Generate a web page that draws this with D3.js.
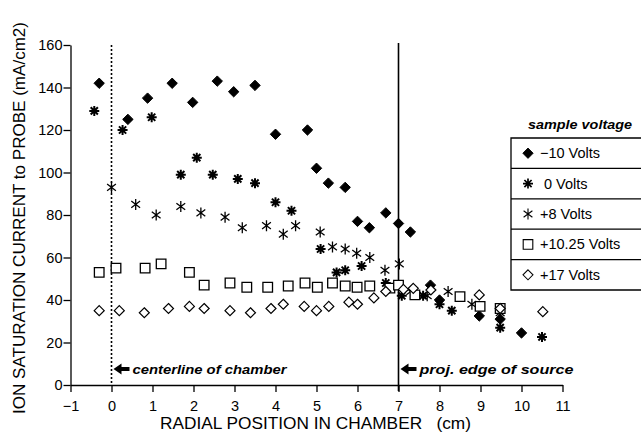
<!DOCTYPE html>
<html><head><meta charset="utf-8">
<script src="https://cdn.jsdelivr.net/npm/d3@7"></script>
<style>
html,body{margin:0;padding:0;background:#fff;}
svg{display:block;font-family:"Liberation Sans",Arial,Helvetica,sans-serif;}
</style></head>
<body>
<svg id="chart" width="641" height="436"></svg>
<script>
// ---------------- data ----------------
const xTicks = [-1,0,1,2,3,4,5,6,7,8,9,10,11];
const yTicks = [0,20,40,60,80,100,120,140,160];
const seriesNames = ["\u221210 Volts"," 0 Volts","+8 Volts","+10.25 Volts","+17 Volts"];

const minus10X = [-0.3,0.4,0.88,1.48,1.98,2.58,2.98,3.5,4.0,4.78,5.0,5.29,5.7,6.0,6.29,6.69,7.0,7.29,7.78,8.0,8.97,9.48,10.0];
const minus10Y = [142,125,135,142,133,143,138,141,118,120,102,95,93,77,74,81,76,72,47,40,32.5,31,24.5];

const zeroX = [-0.42,0.27,0.98,1.69,2.08,2.47,3.08,3.5,4.0,4.39,5.1,5.49,5.7,6.1,6.69,7.08,7.6,8.0,8.3,9.48,10.5];
const zeroY = [129,120,126,99,107,99,97,95,86,82,64,53,54,56,48,42,42,38,35,27,22.6];

const plus8X = [0.0,0.59,1.09,1.69,2.18,2.77,3.19,3.78,4.19,4.49,5.09,5.39,5.7,5.98,6.3,6.67,7.02,7.3,7.7,8.21,8.79,9.48];
const plus8Y = [93,85,80,84,81,79,74,75,71,75,72,65,64,62,60,54,57,44,42,44,38,34];

const plus1025X = [-0.3,0.11,0.82,1.21,1.9,2.26,2.89,3.3,3.81,4.31,4.72,5.02,5.39,5.7,5.99,6.3,6.79,7.0,7.4,8.5,8.99,9.48];
const plus1025Y = [53,55,55,57,53,47,48,46,46,46.6,48,46,48,46.6,46,46.6,45.6,47,42.4,41.6,37,36];

const plus17X = [-0.3,0.19,0.8,1.39,1.9,2.26,2.89,3.39,3.89,4.19,4.7,5.0,5.3,5.79,6.0,6.4,6.69,7.12,7.36,7.79,8.97,9.48,10.52];
const plus17Y = [35,35,34,36,37,36,35,34,36,38,37,35,37,39,38,41,44,45,45.5,44.7,42.4,36,34.5];

// ---------------- layout ----------------
const svg = d3.select("#chart");
const x = d3.scaleLinear().domain([-1,11]).range([70.5,562.5]);
const y = d3.scaleLinear().domain([0,160]).range([385,45]);

// markers
function diamondPath(r){return `M0,${-r}L${r},0L0,${r}L${-r},0Z`;}
function squarePath(r){return `M${-r},${-r}H${r}V${r}H${-r}Z`;}
function star8(r){const a=r*0.72;return `M0,${-r}V${r}M${-r},0H${r}M${-a},${-a}L${a},${a}M${-a},${a}L${a},${-a}`;}
function star6(r){const a=r*0.8;return `M0,${-r}V${r}M${-a},${-r*0.6}L${a},${r*0.6}M${-a},${r*0.6}L${a},${-r*0.6}`;}

const styles = [
  {path:diamondPath(5.2), fill:"#000", stroke:"#000", sw:1},
  {path:star8(5), fill:"none", stroke:"#000", sw:2},
  {path:star6(5.5), fill:"none", stroke:"#000", sw:1.3},
  {path:squarePath(4.8), fill:"#fff", stroke:"#000", sw:1.3},
  {path:diamondPath(5), fill:"#fff", stroke:"#000", sw:1.2}
];
const series = [
  [minus10X,minus10Y],[zeroX,zeroY],[plus8X,plus8Y],[plus1025X,plus1025Y],[plus17X,plus17Y]
];

// reference lines
svg.append("line").attr("x1",x(0)).attr("x2",x(0)).attr("y1",y(160)).attr("y2",y(0))
  .attr("stroke","#000").attr("stroke-width",1.6).attr("stroke-dasharray","2,2");
svg.append("line").attr("x1",x(7)).attr("x2",x(7)).attr("y1",y(161)).attr("y2",y(0)+6)
  .attr("stroke","#000").attr("stroke-width",1.6);

// axes
const xAxis = d3.axisBottom(x).tickValues(xTicks).tickSizeInner(7).tickSizeOuter(0)
  .tickFormat(d=> d<0 ? "\u2212"+Math.abs(d) : d);
const gx = svg.append("g").attr("transform",`translate(0,${y(0)})`).call(xAxis);
gx.selectAll("text").attr("font-size",14.5).attr("dy","1.1em").attr("fill","#000");
gx.selectAll("line,path").attr("stroke","#000").attr("stroke-width",1.3);

const yAxis = d3.axisLeft(y).tickValues(yTicks).tickSizeInner(7).tickSizeOuter(0);
const gy = svg.append("g").attr("transform",`translate(${x(-1)},0)`).call(yAxis);
gy.selectAll("text").attr("font-size",14.5).attr("fill","#000").attr("x",-8);
gy.selectAll("line,path").attr("stroke","#000").attr("stroke-width",1.3);

// points
series.forEach((s,i)=>{
  const st = styles[i];
  svg.append("g").selectAll("path").data(s[0].map((v,k)=>[v,s[1][k]])).join("path")
    .attr("transform",d=>`translate(${x(d[0])},${y(d[1])})`)
    .attr("d",st.path).attr("fill",st.fill).attr("stroke",st.stroke).attr("stroke-width",st.sw);
});

// annotations
function arrowLabel(xv, text){
  const gx0 = x(xv)+2, yy = 369;
  svg.append("path").attr("d",`M${gx0},${yy}l8,-5.5v3.5h8v4h-8v3.5z`).attr("fill","#000");
  svg.append("text").attr("x",gx0+19).attr("y",yy+4.5).text(text)
    .attr("font-size",13).attr("font-weight","bold").attr("font-style","italic").attr("fill","#000")
    .attr("textLength",154).attr("lengthAdjust","spacingAndGlyphs");
}
arrowLabel(0,"centerline of chamber");
arrowLabel(7,"proj. edge of source");

// axis titles
svg.append("text").attr("x",160).attr("y",429)
  .attr("font-size",16.5).attr("fill","#000").attr("xml:space","preserve")
  .attr("textLength",311).attr("lengthAdjust","spacingAndGlyphs")
  .text("RADIAL POSITION IN CHAMBER   (cm)");
svg.append("text").attr("transform","translate(25,218) rotate(-90)").attr("text-anchor","middle")
  .attr("font-size",16.5).attr("fill","#000")
  .attr("textLength",392).attr("lengthAdjust","spacingAndGlyphs")
  .text("ION SATURATION CURRENT to PROBE (mA/cm2)");

// legend
const lg = svg.append("g");
lg.append("text").attr("x",580).attr("y",129).attr("text-anchor","middle")
  .attr("font-size",13).attr("font-weight","bold").attr("font-style","italic")
  .attr("textLength",104).attr("lengthAdjust","spacingAndGlyphs").text("sample voltage");
const rowTop = 138, rowH = 30.4, lx = 511;
lg.append("path").attr("d",`M641,${rowTop}H${lx}V${rowTop+rowH*5}H641`).attr("fill","none")
  .attr("stroke","#000").attr("stroke-width",1.3);
seriesNames.forEach((n,i)=>{
  const cy = rowTop + rowH*i + rowH/2;
  if(i>0) lg.append("line").attr("x1",lx).attr("x2",641).attr("y1",rowTop+rowH*i).attr("y2",rowTop+rowH*i)
    .attr("stroke","#000").attr("stroke-width",1.2);
  const st = styles[i];
  lg.append("path").attr("transform",`translate(528,${cy})`).attr("d",st.path)
    .attr("fill",st.fill).attr("stroke",st.stroke).attr("stroke-width",st.sw*0.85);
  lg.append("text").attr("x",540).attr("y",cy+5).attr("font-size",14.5).attr("xml:space","preserve").text(n);
});
</script>
</body></html>
